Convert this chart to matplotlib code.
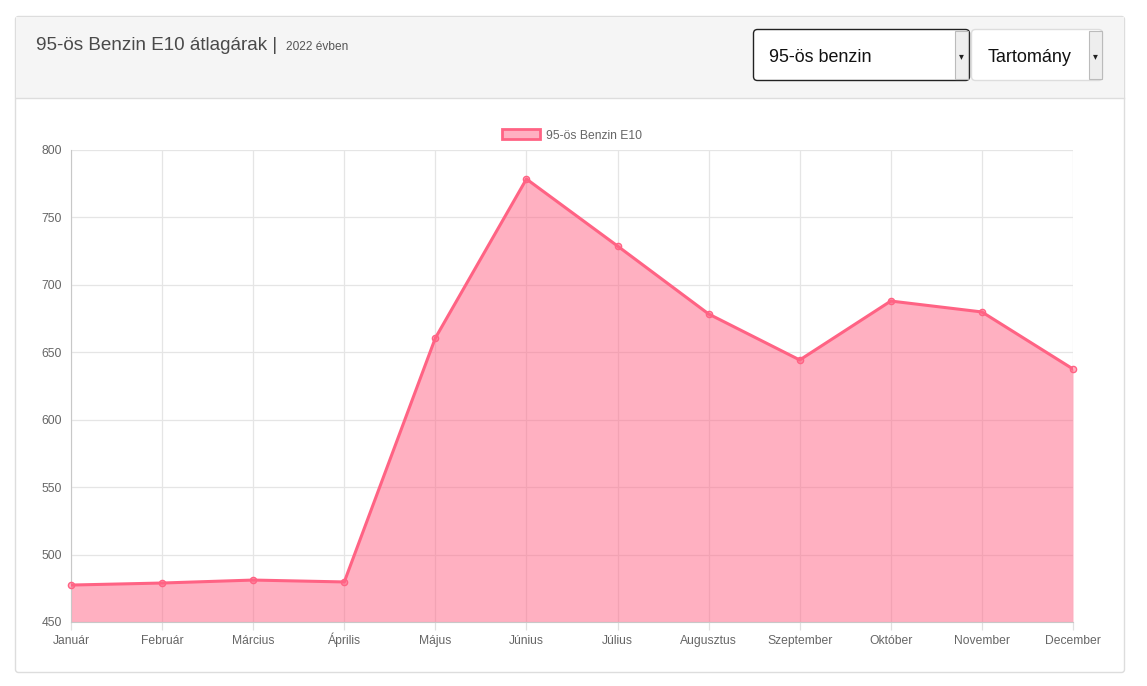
import matplotlib.pyplot as plt
import numpy as np
from matplotlib.patches import Rectangle, FancyBboxPatch, Patch

plt.rcParams['font.family'] = ['Liberation Sans', 'DejaVu Sans']

# data
months = ['Január', 'Február', 'Március', 'Április', 'Május', 'Június',
          'Július', 'Augusztus', 'Szeptember', 'Október', 'November', 'December']
prices = [477.4, 478.9, 481.1, 479.7, 660.6, 778.5,
          728.8, 678.4, 644.3, 688.0, 679.9, 637.6]
series_name = '95-ös Benzin E10'

W, H = 1147, 686
fig = plt.figure(figsize=(W / 100, H / 100), dpi=100)

# page / card background drawn in pixel coords
bg = fig.add_axes([0, 0, 1, 1], zorder=0)
bg.set_xlim(0, W)
bg.set_ylim(H, 0)
bg.set_axis_off()
bg.add_patch(FancyBboxPatch((15.5, 16.5), 1109, 656, boxstyle='round,pad=0,rounding_size=3',
                            fc='white', ec='#dddddd', lw=1))
bg.add_patch(Rectangle((16, 17), 1108, 81, fc='#f5f5f5', ec='none'))
bg.plot([16, 1124], [98, 98], color='#dddddd', lw=1)
bg.text(36, 50.5, '95-ös Benzin E10 átlagárak |', fontsize=13.6, color='#4a4a4a', va='baseline')
bg.text(286, 50.5, '2022 évben', fontsize=8.6, color='#555555', va='baseline')

# dropdowns
bg.add_patch(FancyBboxPatch((753.5, 29.5), 216, 51, boxstyle='round,pad=0,rounding_size=4',
                            fc='white', ec='#222222', lw=1))
bg.add_patch(Rectangle((955, 31), 13, 48, fc='#eeeeee', ec='#bbbbbb', lw=0.8))
bg.text(769, 61.5, '95-ös benzin', fontsize=12.9, color='#111111', va='baseline')
bg.text(961.5, 56, '▾', fontsize=7, color='#222222', va='center', ha='center')
bg.add_patch(FancyBboxPatch((971.5, 29.5), 131, 51, boxstyle='round,pad=0,rounding_size=4',
                            fc='white', ec='#dddddd', lw=1))
bg.add_patch(Rectangle((1089, 31), 13, 48, fc='#eeeeee', ec='#bbbbbb', lw=0.8))
bg.text(988, 61.5, 'Tartomány', fontsize=13, color='#111111', va='baseline')
bg.text(1095.5, 56, '▾', fontsize=7, color='#222222', va='center', ha='center')

# chart
ax = fig.add_axes([71 / W, 1 - 622 / H, (1073 - 71) / W, (622 - 150) / H], zorder=1)
ax.patch.set_alpha(0)
x = np.arange(len(months))
line_c = '#ff6384'
fill_c = (1.0, 0.388, 0.518, 0.5)
ax.fill_between(x, prices, 450, color=fill_c, lw=0, zorder=2)
ax.plot(x, prices, color=line_c, lw=2.2, zorder=3)
ax.scatter(x, prices, s=20, color=fill_c, edgecolors=line_c, linewidths=1, zorder=4, clip_on=False)

ax.set_xlim(0, len(months) - 1)
ax.set_ylim(450, 800)
ax.set_yticks(np.arange(450, 801, 50))
ax.set_xticks(x)
ax.set_xticklabels(months)
ax.grid(True, color='#e5e5e5', lw=0.9, zorder=1)
ax.set_axisbelow(True)
for s in ['top', 'right']:
    ax.spines[s].set_visible(False)
ax.spines['left'].set_color('#c8c8c8')
ax.spines['bottom'].set_color('#c8c8c8')
ax.tick_params(axis='both', colors='#e0e0e0', labelcolor='#666666', labelsize=8.7, width=0.9)
ax.tick_params(axis='x', length=5.8, pad=10)
ax.tick_params(axis='y', length=0, pad=6.5)
for lab in ax.get_xticklabels():
    lab.set_verticalalignment('baseline')

handle = Patch(facecolor=fill_c, edgecolor=line_c, lw=2)
ax.legend([handle], [series_name], loc='lower center', bbox_to_anchor=(0.5, 1.0),
          frameon=False, fontsize=8.7, labelcolor='#666666', handlelength=3.2,
          handleheight=0.9, handletextpad=0.5, borderaxespad=0.3)

fig.savefig('out.png', dpi=100)
